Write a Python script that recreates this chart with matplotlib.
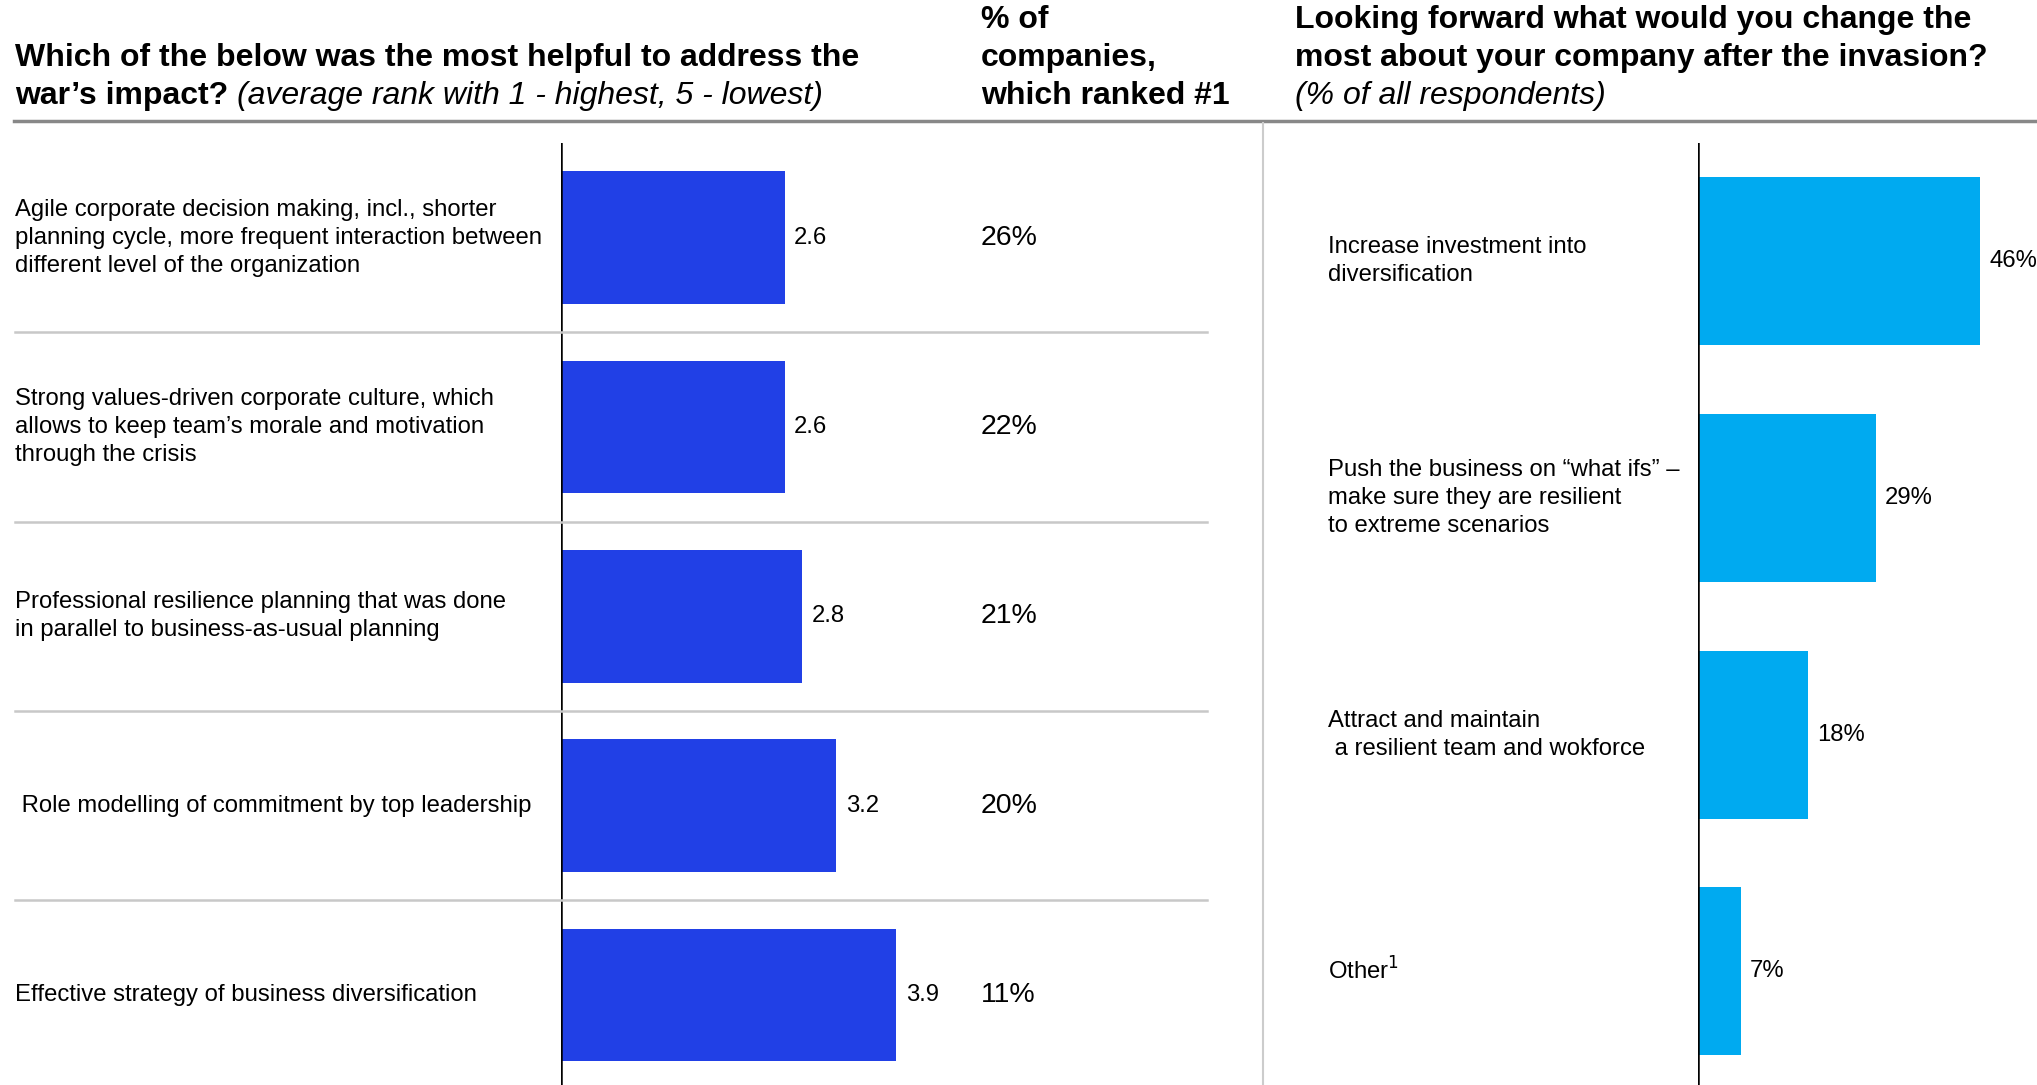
import matplotlib
matplotlib.use("Agg")
import matplotlib.pyplot as plt
from matplotlib.transforms import blended_transform_factory as btf

plt.rcParams['font.family'] = ['Liberation Sans', 'DejaVu Sans']

# ---- data ----
left_labels = [
    "Agile corporate decision making, incl., shorter\nplanning cycle, more frequent interaction between\ndifferent level of the organization",
    "Strong values-driven corporate culture, which\nallows to keep team\u2019s morale and motivation\nthrough the crisis",
    "Professional resilience planning that was done\nin parallel to business-as-usual planning",
    " Role modelling of commitment by top leadership",
    "Effective strategy of business diversification",
]
avg_rank = [2.6, 2.6, 2.8, 3.2, 3.9]
rank_labels = ["2.6", "2.6", "2.8", "3.2", "3.9"]
pct_ranked_first = ["26%", "22%", "21%", "20%", "11%"]

right_labels = [
    "Increase investment into\ndiversification",
    "Push the business on \u201cwhat ifs\u201d \u2013\nmake sure they are resilient\nto extreme scenarios",
    "Attract and maintain\n a resilient team and wokforce",
    "Other$^{1}$",
]
change_pct = [46, 29, 18, 7]

W, H = 2037, 1085
fig = plt.figure(figsize=(W / 100, H / 100), dpi=100)
fig.patch.set_facecolor("white")

def fx(px):
    return px / W

def fy(py):
    return 1 - py / H

LBLUE = "#2140E6"
RBLUE = "#00AAF0"
TXT = 17.2
HDR = 23
PCT = 20.5
LS = 1.36

# ---- left axes ----
axL = fig.add_axes([fx(561), 0, fx(430), (H - 143) / H])
n = len(avg_rank)
yl = list(range(n))
axL.barh(yl, avg_rank, height=0.70, color=LBLUE)
axL.set_xlim(0, 5)
axL.set_ylim(n - 0.524, -0.5)
axL.axis("off")
axL.axvline(0, color="black", lw=1.8)
tL = btf(fig.transFigure, axL.transData)
for i, (v, lab) in enumerate(zip(avg_rank, rank_labels)):
    axL.text(v + 0.11, i, lab, ha="left", va="center", fontsize=TXT)
    fig.text(fx(15), 0, left_labels[i], transform=tL, ha="left", va="center",
             fontsize=TXT, linespacing=LS).set_y(i)
    fig.text(fx(981), 0, pct_ranked_first[i], transform=tL, ha="left",
             va="center", fontsize=PCT).set_y(i)
for i in range(n - 1):
    axL.plot([fx(15), fx(1207)], [i + 0.5, i + 0.5], transform=tL,
             color="#C8C8C8", lw=1.8, clip_on=False)

# ---- right axes ----
axR = fig.add_axes([fx(1698), 0, fx(337), (H - 143) / H])
m = len(change_pct)
yr = list(range(m))
axR.barh(yr, change_pct, height=0.71, color=RBLUE)
axR.set_xlim(0, 55)
axR.set_ylim(m - 0.52, -0.5)
axR.axis("off")
axR.axvline(0, color="black", lw=1.8)
tR = btf(fig.transFigure, axR.transData)
for i, v in enumerate(change_pct):
    axR.text(v + 1.5, i, f"{v}%", ha="left", va="center", fontsize=TXT,
             clip_on=False)
    fig.text(fx(1328), 0, right_labels[i], transform=tR, ha="left",
             va="center", fontsize=TXT, linespacing=LS).set_y(i)

# ---- headers ----
fig.text(fx(15), fy(58), "Which of the below was the most helpful to address the",
         ha="left", va="center", fontsize=HDR, fontweight="bold")
t1 = fig.text(fx(15), fy(96), "war\u2019s impact? ", ha="left", va="center",
              fontsize=HDR, fontweight="bold")
fig.canvas.draw()
bb = t1.get_window_extent()
fig.text(bb.x1 / W, fy(96), "(average rank with 1 - highest, 5 - lowest)",
         ha="left", va="center", fontsize=HDR, fontstyle="italic")

for yy, s in zip([20, 58, 96], ["% of", "companies,", "which ranked #1"]):
    fig.text(fx(981), fy(yy), s, ha="left", va="center", fontsize=HDR,
             fontweight="bold")

fig.text(fx(1295), fy(20), "Looking forward what would you change the",
         ha="left", va="center", fontsize=HDR, fontweight="bold")
fig.text(fx(1295), fy(58), "most about your company after the invasion?",
         ha="left", va="center", fontsize=HDR, fontweight="bold")
fig.text(fx(1295), fy(96), "(% of all respondents)",
         ha="left", va="center", fontsize=HDR, fontstyle="italic")

# header rule and divider
fig.add_artist(plt.Line2D([fx(14), 1], [fy(121), fy(121)], color="#888888",
                          lw=2.5, transform=fig.transFigure))
fig.add_artist(plt.Line2D([fx(1263), fx(1263)], [fy(123), 0], color="#CCCCCC",
                          lw=1.5, transform=fig.transFigure))

fig.savefig("out.png", dpi=100, facecolor="white")
